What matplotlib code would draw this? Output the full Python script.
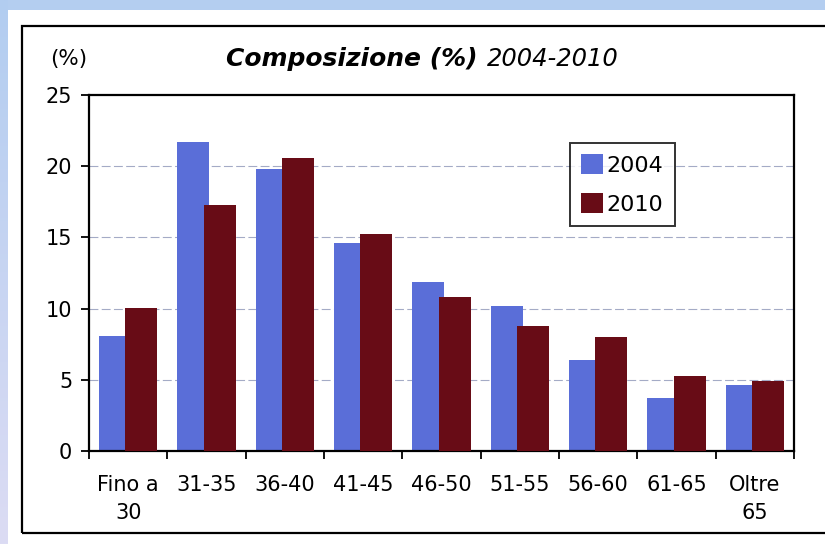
import matplotlib
matplotlib.use('Agg')
import matplotlib.pyplot as plt
import numpy as np
from matplotlib.patches import Rectangle

# Dati
categorie = ["Fino a\n30", "31-35", "36-40", "41-45", "46-50", "51-55", "56-60", "61-65", "Oltre\n65"]
valori_2004 = [8.05, 21.7, 19.8, 14.6, 11.9, 10.2, 6.4, 3.7, 4.6]
valori_2010 = [10.05, 17.25, 20.55, 15.25, 10.8, 8.8, 8.0, 5.3, 4.9]
tick_y = [0, 5, 10, 15, 20, 25]

W, H = 825, 544
fig = plt.figure(figsize=(W / 100, H / 100), dpi=100)
fig.patch.set_facecolor("#b4cef0")

# striscia sinistra sfumata
bg = fig.add_axes([0, 0, 7 / W, 1])
grad = np.linspace(0, 1, 256).reshape(-1, 1)
cmap = matplotlib.colors.LinearSegmentedColormap.from_list("bg", ["#b2cdf0", "#dcdcf4"])
bg.imshow(grad, aspect="auto", cmap=cmap)
bg.axis("off")

# pannello bianco e cornice (dietro gli assi)
fig.patches.append(Rectangle((7 / W, 0), 1, 1 - 10 / H, transform=fig.transFigure,
                             facecolor="white", edgecolor="none", zorder=-2))
fig.patches.append(Rectangle((22 / W, 1 - 533 / H), 1.2, (533 - 26) / H, transform=fig.transFigure,
                             facecolor="none", edgecolor="black", linewidth=1.6, zorder=-1))

ax = fig.add_axes([89 / W, 1 - 451 / H, (794 - 89) / W, (451 - 95) / H])
ax.set_zorder(2)
ax.set_facecolor("white")

x = np.arange(len(categorie))
larghezza = 0.41
off = 0.167
ax.bar(x - off, valori_2004, larghezza, color="#5a6ed8", label="2004", zorder=2)
ax.bar(x + off, valori_2010, larghezza, color="#680c16", label="2010", zorder=3)

ax.set_xlim(-0.5, len(categorie) - 0.5)
ax.set_ylim(0, 25)
ax.set_yticks(tick_y)
ax.set_yticklabels([str(t) for t in tick_y], fontsize=15)
ax.set_xticks(x)
ax.set_xticklabels(categorie, fontsize=15, linespacing=1.5)
ax.tick_params(axis="x", length=0, pad=17)
ax.set_xticks(np.arange(len(categorie) + 1) - 0.5, minor=True)
ax.tick_params(axis="x", which="minor", length=6, width=1.3, direction="out")
ax.tick_params(axis="y", length=6, width=1.3, direction="out", pad=6)

for v in tick_y[1:-1]:
    ax.axhline(v, color="#a4abc6", linewidth=0.8, linestyle=(0, (8, 3)), zorder=1)

for s in ax.spines.values():
    s.set_linewidth(1.6)
    s.set_color("black")

leg = ax.legend(loc="upper left", bbox_to_anchor=(570 / W, 1 - 143 / H),
                bbox_transform=fig.transFigure, fontsize=16, frameon=True,
                fancybox=False, handlelength=1.0, handleheight=1.0,
                handletextpad=0.15, borderpad=0.5, labelspacing=0.8, borderaxespad=0)
leg.get_frame().set_edgecolor("black")
leg.get_frame().set_linewidth(1.4)

fig.text(50 / W, 1 - 59 / H, "(%)", fontsize=15.5, va="center", ha="left")
fig.text(478 / W, 1 - 59 / H, "Composizione (%)", fontsize=18, fontweight="bold",
         fontstyle="italic", va="center", ha="right")
fig.text(487 / W, 1 - 59 / H, "2004-2010", fontsize=17.5, fontstyle="italic",
         va="center", ha="left")

fig.savefig("out.png", dpi=100)
